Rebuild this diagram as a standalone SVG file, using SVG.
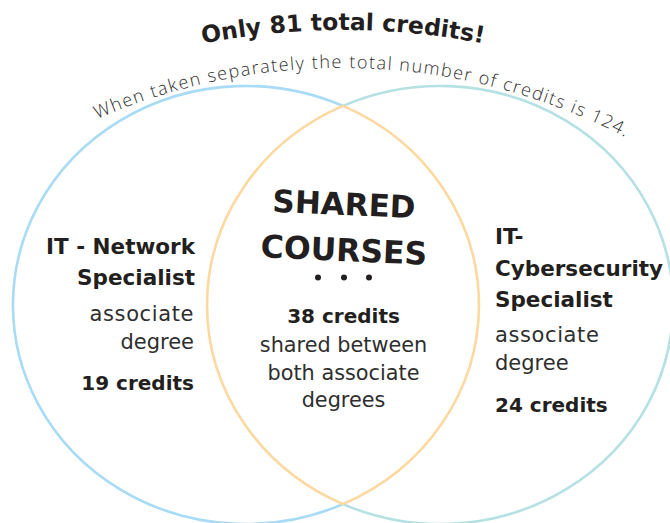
<svg xmlns="http://www.w3.org/2000/svg" width="670" height="523" viewBox="0 0 670 523">
  <style>
    .ring { fill: none; stroke-width: 2.6; stroke-linecap: round; }
    .blue { stroke: #a8dbf6; }
    .teal { stroke: #b6e1e4; }
    .orange { stroke: #fdd9a1; }
    .b { font-family: "DejaVu Sans", "Noto Sans", sans-serif; font-weight: bold; fill: #231f20; }
    .r { font-family: "DejaVu Sans", "Noto Sans", sans-serif; font-weight: normal; fill: #2e2e2e; }
    .title { font-family: "DejaVu Sans", "Noto Sans", sans-serif; font-weight: bold; font-size: 23.5px; fill: #231f20; }
    .sub { font-family: "Open Sans", "Lato", sans-serif; font-weight: 300; font-size: 18px; fill: #2f2f2f; }
  </style>
  <defs>
    <path id="titleArc" d="M 143,57.6 A 739 739 0 0 1 543,57.6"/>
    <path id="subArc" d="M -10.4,179.1 A 614.4 614.4 0 0 1 694.4,179.1"/>
  </defs>
  <rect width="670" height="523" fill="#ffffff"/>

  <g id="heading">
    <text class="title"><textPath href="#titleArc" startOffset="50%" text-anchor="middle">Only 81 total credits!</textPath></text>
    <text class="sub"><textPath href="#subArc" startOffset="123.3" textLength="546" lengthAdjust="spacing">When taken separately the total number of credits is 124.</textPath></text>
  </g>

  <g id="it-network">
    <path class="ring blue" d="M 343,105.9 A 233 219 0 1 0 343,504.1"/>
    <text class="b" font-size="21.5" text-anchor="end" x="195" y="254">IT - Network</text>
    <text class="b" font-size="21.5" text-anchor="end" x="195" y="285">Specialist</text>
    <text class="r" font-size="21" text-anchor="end" x="194" y="321" letter-spacing="0.6">associate</text>
    <text class="r" font-size="21" text-anchor="end" x="194" y="349">degree</text>
    <text class="b" font-size="20" text-anchor="end" x="194" y="390">19 credits</text>
  </g>

  <g id="it-cybersecurity">
    <path class="ring teal" d="M 343,105.9 A 233 219 0 1 1 343,504.1"/>
    <text class="b" font-size="21.5" x="495" y="244">IT-</text>
    <text class="b" font-size="21.5" x="495" y="276">Cybersecurity</text>
    <text class="b" font-size="21.5" x="495" y="307">Specialist</text>
    <text class="r" font-size="21" x="495" y="342" letter-spacing="0.6">associate</text>
    <text class="r" font-size="21" x="495" y="370">degree</text>
    <text class="b" font-size="20" x="495" y="412">24 credits</text>
  </g>

  <g id="shared-courses">
    <path class="ring orange" d="M 343,105.9 A 233 219 0 0 1 343,504.1 A 233 219 0 0 1 343,105.9"/>
    <text class="b" font-size="31" text-anchor="middle" x="344" y="215" transform="rotate(2.5 344 205)">SHARED</text>
    <text class="b" font-size="31.5" text-anchor="middle" x="344" y="261" transform="rotate(2.5 344 250)">COURSES</text>
    <circle cx="318" cy="277.5" r="3" fill="#231f20"/>
    <circle cx="344" cy="277.5" r="3" fill="#231f20"/>
    <circle cx="369" cy="277.5" r="3" fill="#231f20"/>
    <text class="b" font-size="20" text-anchor="middle" x="343.5" y="323">38 credits</text>
    <text class="r" font-size="20.8" text-anchor="middle" x="343.5" y="352">shared between</text>
    <text class="r" font-size="20.8" text-anchor="middle" x="343.5" y="380">both associate</text>
    <text class="r" font-size="20.8" text-anchor="middle" x="343.5" y="407">degrees</text>
  </g>

  <g id="connectors"></g>
</svg>
